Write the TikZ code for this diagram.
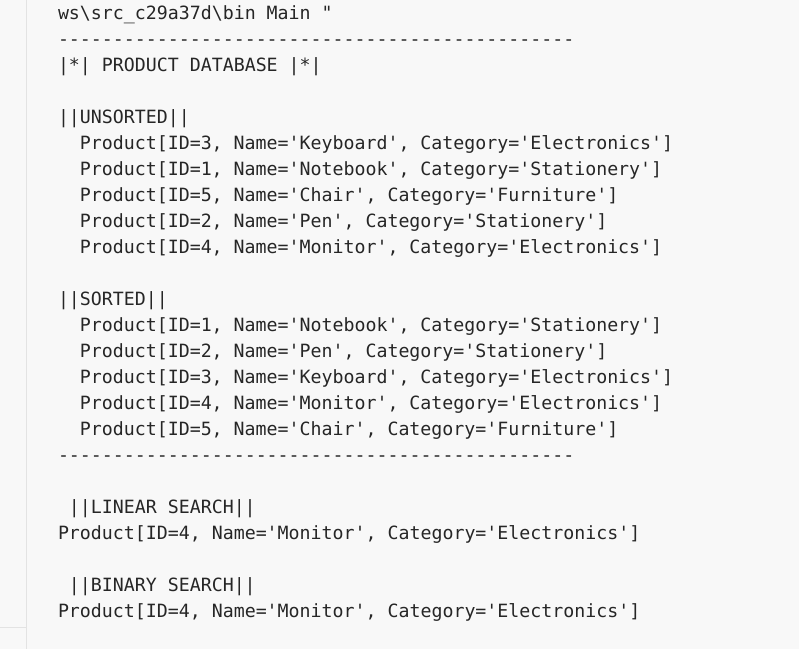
\documentclass[tikz,border=0pt]{standalone}
\usepackage{fontspec}
\newfontfamily\monof{DejaVu Sans Mono}
\definecolor{bgc}{HTML}{F8F8F8}
\definecolor{linec}{HTML}{E3E3E3}
\definecolor{txt}{HTML}{262626}
\begin{document}
\begin{tikzpicture}[x=1pt,y=-1pt,
  ln/.style={anchor=base west,inner sep=0pt,outer sep=0pt,text=txt,font=\monof\fontsize{18.25}{26}\selectfont}]
\fill[bgc] (0,0) rectangle (799,649);
\useasboundingbox (0,0) rectangle (799,649);
\coordinate (vt) at (26.5,0);
\coordinate (vb) at (26.5,649);
\coordinate (hl) at (0,627.5);
\coordinate (hr) at (26.5,627.5);
\draw[linec,line width=1.2pt] (vt) -- (vb);
\draw[linec,line width=1.2pt] (hl) -- (hr);
\node[ln] (l0) at (58,19) {ws\textbackslash src\_c29a37d\textbackslash bin Main "};
\node[ln] (l1) at (58,45) {-----------------------------------------------};
\node[ln] (l2) at (58,71) {|*| PRODUCT DATABASE |*|};
\node[ln] (l4) at (58,123) {||UNSORTED||};
\node[ln] (l5) at (79.9,149) {Product[ID=3, Name='Keyboard', Category='Electronics']};
\node[ln] (l6) at (79.9,175) {Product[ID=1, Name='Notebook', Category='Stationery']};
\node[ln] (l7) at (79.9,201) {Product[ID=5, Name='Chair', Category='Furniture']};
\node[ln] (l8) at (79.9,227) {Product[ID=2, Name='Pen', Category='Stationery']};
\node[ln] (l9) at (79.9,253) {Product[ID=4, Name='Monitor', Category='Electronics']};
\node[ln] (l11) at (58,305) {||SORTED||};
\node[ln] (l12) at (79.9,331) {Product[ID=1, Name='Notebook', Category='Stationery']};
\node[ln] (l13) at (79.9,357) {Product[ID=2, Name='Pen', Category='Stationery']};
\node[ln] (l14) at (79.9,383) {Product[ID=3, Name='Keyboard', Category='Electronics']};
\node[ln] (l15) at (79.9,409) {Product[ID=4, Name='Monitor', Category='Electronics']};
\node[ln] (l16) at (79.9,435) {Product[ID=5, Name='Chair', Category='Furniture']};
\node[ln] (l17) at (58,461) {-----------------------------------------------};
\node[ln] (l19) at (68.96,513) {||LINEAR SEARCH||};
\node[ln] (l20) at (58,539) {Product[ID=4, Name='Monitor', Category='Electronics']};
\node[ln] (l22) at (68.96,591) {||BINARY SEARCH||};
\node[ln] (l23) at (58,617) {Product[ID=4, Name='Monitor', Category='Electronics']};
\end{tikzpicture}
\end{document}
